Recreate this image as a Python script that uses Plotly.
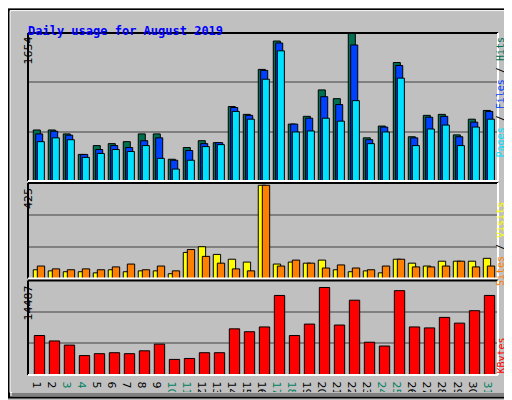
import plotly.graph_objects as go

days = list(range(1, 32))
weekend = [3, 4, 10, 11, 17, 18, 24, 25, 31]

hits = [573, 573, 529, 299, 398, 420, 442, 529, 529, 245, 376, 453, 431, 836, 748, 1252,
        1570, 639, 726, 1022, 924, 1654, 485, 617, 1329, 497, 737, 748, 518, 694, 792]
files = [529, 559, 515, 299, 354, 398, 376, 453, 485, 234, 343, 420, 431, 825, 737, 1241,
         1548, 639, 705, 946, 858, 1526, 464, 606, 1296, 485, 716, 726, 497, 661, 781]
pages = [442, 485, 464, 266, 310, 354, 332, 398, 255, 135, 234, 387, 409, 781, 694, 1142,
         1460, 551, 562, 705, 672, 902, 420, 551, 1154, 398, 584, 628, 398, 606, 694]
sites = [40, 35, 31, 31, 26, 40, 31, 35, 35, 22, 119, 145, 110, 88, 75, 425,
         66, 75, 70, 84, 40, 31, 35, 26, 88, 70, 57, 79, 79, 79, 92]
visits = [57, 44, 40, 44, 40, 53, 66, 40, 57, 35, 132, 101, 70, 44, 35, 425,
          57, 84, 70, 48, 62, 48, 40, 57, 88, 53, 53, 57, 79, 53, 57]
kbytes = [6532, 5637, 4952, 3213, 3530, 3688, 3530, 4004, 5110, 2581, 2739, 3688, 3688, 7639, 7164, 7955,
          13170, 6532, 8429, 14487, 8271, 12380, 5426, 4794, 13960, 7955, 7797, 9535, 8587, 10641, 13170]

W, H = 512, 400
L, R, T, B = 20, 490, 25, 376


def px(x):
    return (x - L) / (R - L)


def py(y):
    return (B - y) / (B - T)


fig = go.Figure()


def bars(vals, color, offset, width, axis):
    fig.add_trace(go.Bar(x=days, y=vals, offset=offset, width=width, yaxis=axis,
                         marker=dict(color=color, line=dict(color="black", width=1)),
                         showlegend=False, hoverinfo="skip"))


bars(hits, "#007050", -0.38, 0.47, "y")
bars(files, "#0040ff", -0.22, 0.47, "y")
bars(pages, "#00e0ff", -0.11, 0.47, "y")
bars(sites, "#ffff00", -0.38, 0.49, "y2")
bars(visits, "#ff8000", -0.11, 0.49, "y2")
bars(kbytes, "#ff0000", -0.31, 0.69, "y3")

ticktext = [f'<span style="color:#008060">{d}</span>' if d in weekend else str(d) for d in days]

grid = dict(showticklabels=False, showgrid=True, gridcolor="#808080", gridwidth=1.5,
            zeroline=False, ticks="")
fig.update_layout(
    width=W, height=H, margin=dict(l=L, r=W - R, t=T, b=H - B),
    paper_bgcolor="#c0c0c0", plot_bgcolor="#c0c0c0", barmode="overlay",
    font=dict(family="DejaVu Sans", size=11, color="black"),
    xaxis=dict(range=[0.27, 31.6], tickvals=days, ticktext=ticktext, showgrid=False,
               zeroline=False, ticks="", tickfont=dict(size=11), anchor="y3"),
    yaxis=dict(domain=[py(177), 1], range=[0, 1660], dtick=1660 / 3, **grid),
    yaxis2=dict(domain=[py(277), py(179)], range=[0, 435], dtick=145, **grid),
    yaxis3=dict(domain=[0, py(279)], range=[0, 15646], dtick=5215.4, **grid),
)

shapes = []
# panel frames: black top/left, white bottom/right
for top, bot in [(25, 177), (179, 277), (279, 376)]:
    shapes.append(dict(type="line", x0=px(20), x1=px(490), y0=py(top), y1=py(top), line=dict(color="black", width=2)))
    shapes.append(dict(type="line", x0=px(20), x1=px(20), y0=py(top), y1=py(bot), line=dict(color="black", width=2)))
    shapes.append(dict(type="line", x0=px(20), x1=px(490), y0=py(bot), y1=py(bot), line=dict(color="white", width=2)))
    shapes.append(dict(type="line", x0=px(490), x1=px(490), y0=py(top), y1=py(bot), line=dict(color="white", width=2)))
# outer border and shadow
shapes.append(dict(type="rect", x0=px(1), x1=px(511), y0=py(399), y1=py(1), line=dict(color="black", width=2)))
shapes.append(dict(type="rect", x0=px(2), x1=px(506), y0=py(394), y1=py(2), line=dict(color="white", width=1)))
shapes.append(dict(type="rect", x0=px(506), x1=px(510), y0=py(398), y1=py(4), fillcolor="#808080", line=dict(width=0)))
shapes.append(dict(type="rect", x0=px(4), x1=px(510), y0=py(398), y1=py(394), fillcolor="#808080", line=dict(width=0)))
for s in shapes:
    s.update(xref="paper", yref="paper", layer="above")
fig.update_layout(shapes=shapes)

mono = "DejaVu Sans Mono"
ann = [
    dict(x=px(18), y=py(14), text="<b>Daily usage for August 2019</b>", xanchor="left",
         font=dict(family=mono, size=12, color="#0000ff")),
    dict(x=px(12), y=py(27), text="1654", textangle=-90, yanchor="top", font=dict(size=11)),
    dict(x=px(12), y=py(182), text="425", textangle=-90, yanchor="top", font=dict(size=11)),
    dict(x=px(12), y=py(282), text="14487", textangle=-90, yanchor="top", font=dict(size=11)),
    dict(x=px(500), y=py(27), textangle=-90, yanchor="top", font=dict(family=mono, size=10),
         text='<span style="color:#00e0ff">Pages</span> / <span style="color:#0040ff">Files</span>'
              ' / <span style="color:#007050">Hits</span>'),
    dict(x=px(500), y=py(196), textangle=-90, yanchor="top", font=dict(family=mono, size=10),
         text='<span style="color:#ff8000">Sites</span> / <span style="color:#ffff00">Visits</span>'),
    dict(x=px(500), y=py(376), textangle=-90, yanchor="bottom", font=dict(family=mono, size=10, color="#ff0000"),
         text="KBytes"),
]
for a in ann:
    a.update(xref="paper", yref="paper", showarrow=False)
fig.update_layout(annotations=ann)

fig.write_html("out.html")
